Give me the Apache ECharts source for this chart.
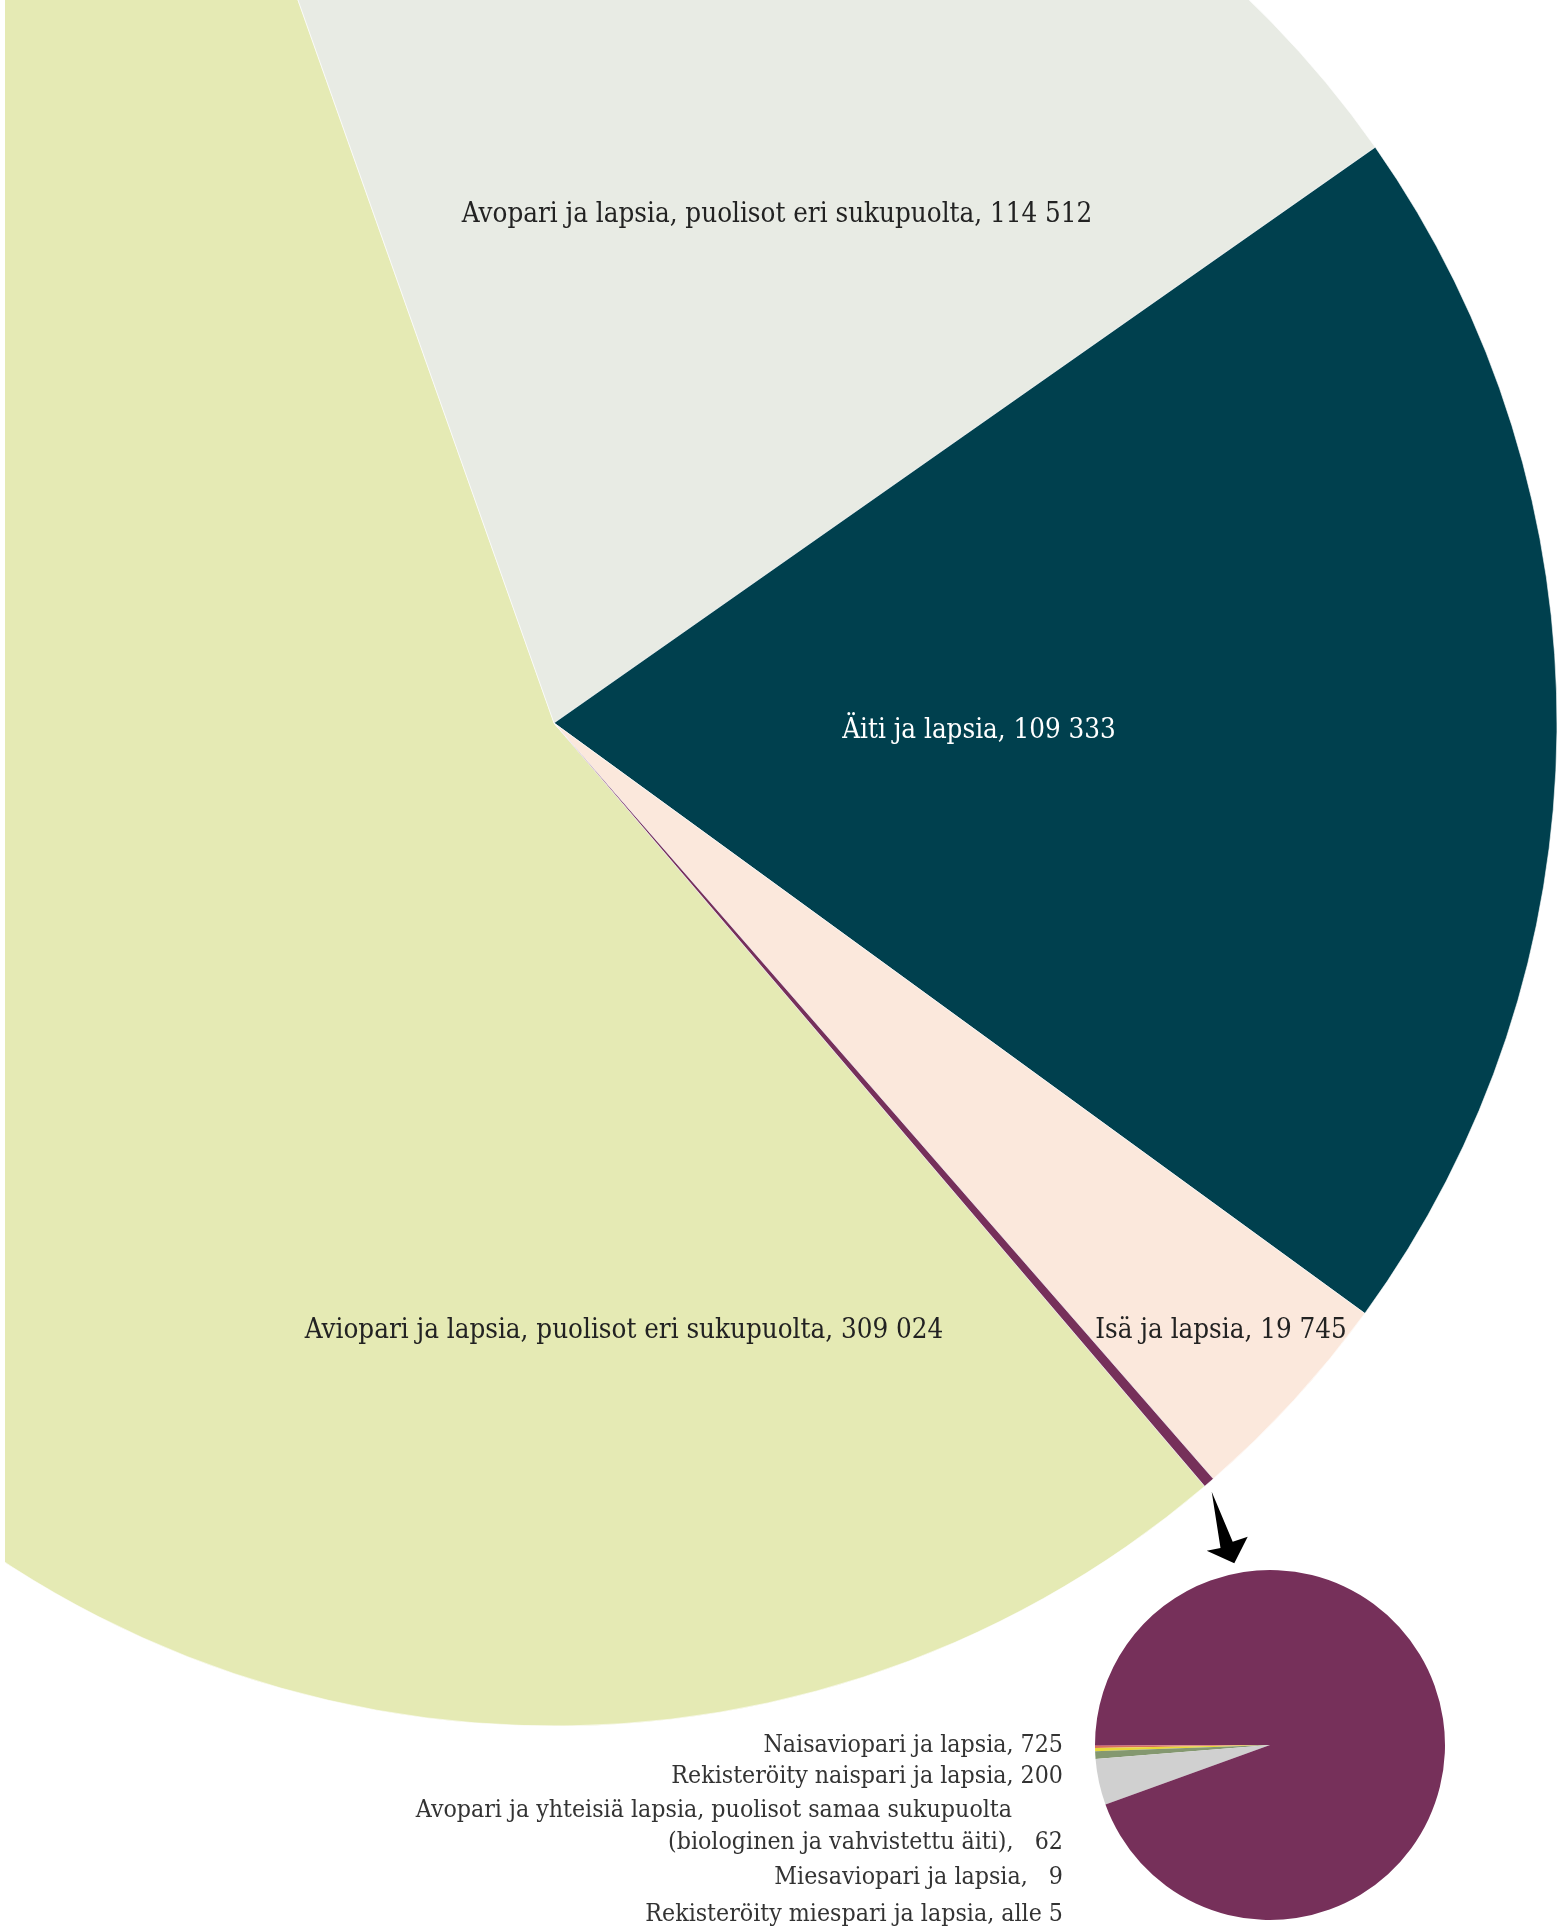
<!DOCTYPE html>
<html>
<head>
<meta charset="utf-8">
<script src="https://cdn.jsdelivr.net/npm/echarts@6/dist/echarts.min.js"></script>
<style>
  html, body { margin: 0; padding: 0; background: #fff; }
  #main { position: absolute; left: 5px; top: 0; width: 1560px; height: 1930px; }
</style>
</head>
<body>
<div id="main"></div>
<script>
// perhetyypit, lapsiperheet
var mainNames = [
  'Aviopari ja lapsia, puolisot eri sukupuolta',
  'Avopari ja lapsia, puolisot eri sukupuolta',
  'Äiti ja lapsia',
  'Isä ja lapsia',
  'Samaa sukupuolta olevat parit ja lapsia'
];
var mainValues = [309024, 114512, 109333, 19745, 999];
var mainColors = ['#e5eab4', '#e8ebe4', '#00404e', '#fbe8dc', '#76305a'];

// pieni piirakka: osuudet luettu kuvasta (%)
var smallNames = ['a', 'b', 'c', 'd', 'e', 'f'];
var smallValues = [0.1, 0.18, 0.28, 0.72, 4.25, 94.47];
var smallColors = ['#b8607a', '#d8705a', '#e8d838', '#849870', '#d0d0d0', '#76305a'];

var smallLabels = [
  'Naisaviopari ja lapsia, 725',
  'Rekisteröity naispari ja lapsia, 200',
  'Avopari ja yhteisiä lapsia, puolisot samaa sukupuolta',
  '(biologinen ja vahvistettu äiti),   62',
  'Miesaviopari ja lapsia,   9',
  'Rekisteröity miespari ja lapsia, alle 5'
];

var OX = 5; // kaavion vasen reuna sivulla
var FONT = '"DejaVu Serif Condensed", "DejaVu Serif", serif';

function fmt(n) {
  return String(n).replace(/\B(?=(\d{3})+(?!\d))/g, ' ');
}

// tekstien paikat (sivun koordinaatit)
var labelPos = [[624, 1331], [777, 215], [979, 731], [1221, 1331], null];
var smallLabelPos = [[1063, 1746], [1063, 1777], [1012, 1811], [1063, 1843], [1063, 1878], [1063, 1915]];

var Chart = echarts.init(document.getElementById('main'), null, { renderer: 'canvas' });

function getOption() {
  var mainData = mainValues.map(function (v, i) {
    return {
      name: mainNames[i],
      value: v,
      itemStyle: { color: mainColors[i] },
      label: {
        show: i < 4,
        color: i === 2 ? '#ffffff' : '#222222'
      }
    };
  });
  var smallData = smallValues.map(function (v, i) {
    return { name: smallNames[i], value: v, itemStyle: { color: smallColors[i] } };
  });

  var texts = smallLabels.map(function (t, i) {
    return {
      type: 'text',
      x: smallLabelPos[i][0] - OX,
      y: smallLabelPos[i][1],
      style: {
        text: t,
        fill: '#333333',
        font: '24.7px ' + FONT,
        textAlign: 'right',
        textVerticalAlign: 'middle'
      }
    };
  });

  // nuoli isosta piirakasta pieneen
  var arrow = {
    type: 'polygon',
    shape: {
      points: [
        [1211.7 - OX, 1491.7],
        [1232.7 - OX, 1541.7],
        [1247.7 - OX, 1536.7],
        [1234.3 - OX, 1563.3],
        [1206.7 - OX, 1550.7],
        [1220.5 - OX, 1548.0]
      ]
    },
    style: { fill: '#000000' }
  };

  return {
    animation: false,
    backgroundColor: '#ffffff',
    series: [
      {
        type: 'pie',
        center: [554 - OX, 723],
        radius: 1003,
        startAngle: -49.55,
        clockwise: true,
        avoidLabelOverlap: false,
        itemStyle: { borderColor: '#ffffff', borderWidth: 0.6 },
        label: {
          position: 'inside',
          fontFamily: FONT,
          fontSize: 27.5,
          formatter: function (p) { return p.name + ', ' + fmt(p.value); }
        },
        labelLine: { show: false },
        labelLayout: function (params) {
          var p = labelPos[params.dataIndex];
          if (!p) return {};
          return { x: p[0] - OX, y: p[1], align: 'center', verticalAlign: 'middle' };
        },
        emphasis: { disabled: true },
        data: mainData
      },
      {
        type: 'pie',
        center: [1270 - OX, 1745],
        radius: 175,
        startAngle: 180,
        clockwise: false,
        label: { show: false },
        labelLine: { show: false },
        emphasis: { disabled: true },
        data: smallData
      }
    ],
    graphic: texts.concat([arrow])
  };
}

Chart.setOption(getOption());
</script>
</body>
</html>
